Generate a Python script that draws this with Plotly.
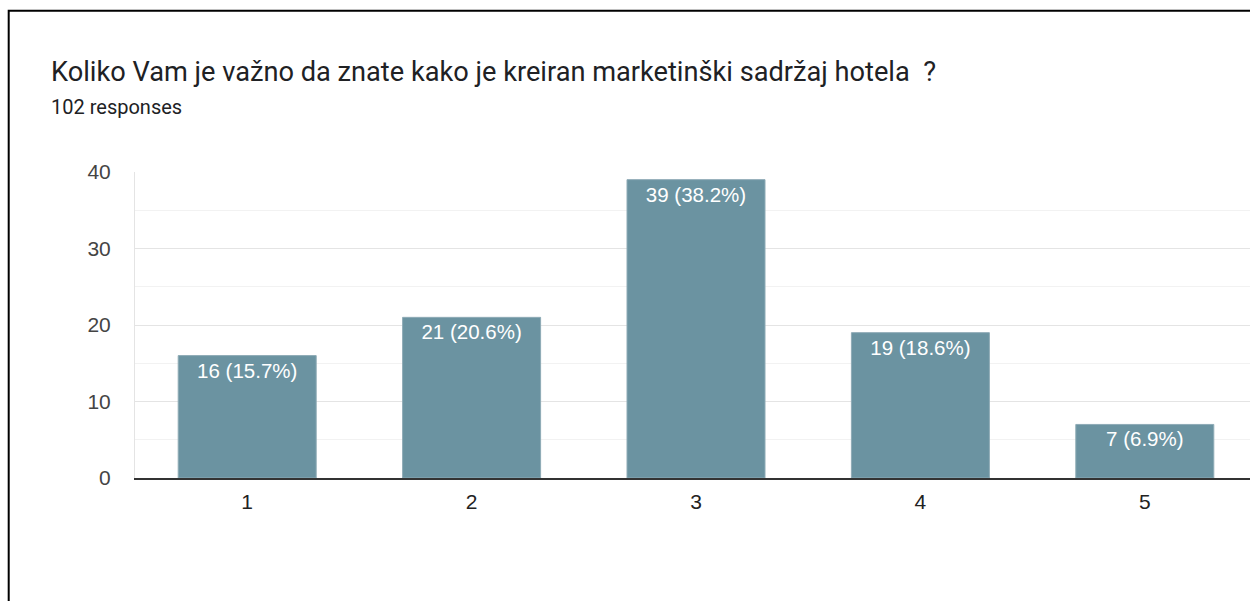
import plotly.graph_objects as go

categories = ["1", "2", "3", "4", "5"]
counts = [16, 21, 39, 19, 7]
total_responses = 102
title_text = "Koliko Vam je važno da znate kako je kreiran marketinški sadržaj hotela  ?"
subtitle_text = f"{total_responses} responses"
y_ticks = [0, 10, 20, 30, 40]

labels = [f"{c} ({c / total_responses * 100:.1f}%)" for c in counts]

W, H = 1250, 601
ML, MR, MT, MB = 135, 0, 172, 123
PW = W - ML - MR
PH = H - MT - MB
cat_px = 224.4  # pixel width of one category


def px_x(px):
    return (px - ML) / PW


def px_y(py):
    return (H - MB - py) / PH


fig = go.Figure(
    go.Bar(
        x=[int(c) for c in categories],
        y=counts,
        text=labels,
        textposition="inside",
        insidetextanchor="end",
        textangle=0,
        textfont=dict(family="Liberation Sans, Arial", size=20.5, color="#ffffff"),
        marker=dict(color="#6b93a1", line=dict(color="#8eabb6", width=1)),
        width=0.615,
        hoverinfo="skip",
    )
)

fig.update_layout(
    width=W,
    height=H,
    margin=dict(l=ML, r=MR, t=MT, b=MB, pad=0),
    paper_bgcolor="#ffffff",
    plot_bgcolor="#ffffff",
    showlegend=False,
    xaxis=dict(
        range=[0.5, 0.5 + PW / cat_px],
        tickvals=[int(c) for c in categories],
        ticktext=categories,
        showgrid=False,
        zeroline=False,
        showline=True,
        linecolor="#333333",
        linewidth=1.5,
        ticks="",
        ticklabelstandoff=4,
        tickfont=dict(family="Liberation Sans, Arial", size=21, color="#222222"),
        fixedrange=True,
    ),
    yaxis=dict(
        range=[0, 40],
        tickvals=y_ticks,
        showgrid=True,
        gridcolor="#e4e4e4",
        gridwidth=1,
        minor=dict(dtick=5, showgrid=True, gridcolor="#f2f2f2", gridwidth=1),
        zeroline=False,
        showline=True,
        linecolor="#e4e4e4",
        linewidth=1,
        ticks="",
        ticklabelstandoff=19,
        tickfont=dict(family="Liberation Sans, Arial", size=21, color="#444444"),
        fixedrange=True,
    ),
    annotations=[
        dict(
            text=title_text,
            xref="paper", yref="paper",
            x=px_x(49), y=px_y(72),
            xanchor="left", yanchor="middle",
            showarrow=False,
            font=dict(family="Roboto", size=27.2, color="#202124"),
        ),
        dict(
            text=subtitle_text,
            xref="paper", yref="paper",
            x=px_x(49), y=px_y(107),
            xanchor="left", yanchor="middle",
            showarrow=False,
            font=dict(family="Roboto", size=20, color="#202124"),
        ),
    ],
    shapes=[
        dict(
            type="rect",
            xref="paper", yref="paper",
            x0=px_x(8.7), x1=px_x(1300),
            y0=px_y(700), y1=px_y(10.8),
            line=dict(color="#000000", width=2),
            fillcolor="rgba(0,0,0,0)",
            layer="above",
        )
    ],
)

fig.write_html(
    "out.html",
    config={"displayModeBar": False},
    post_script="document.body.style.margin='0';document.body.style.overflow='hidden';",
)
